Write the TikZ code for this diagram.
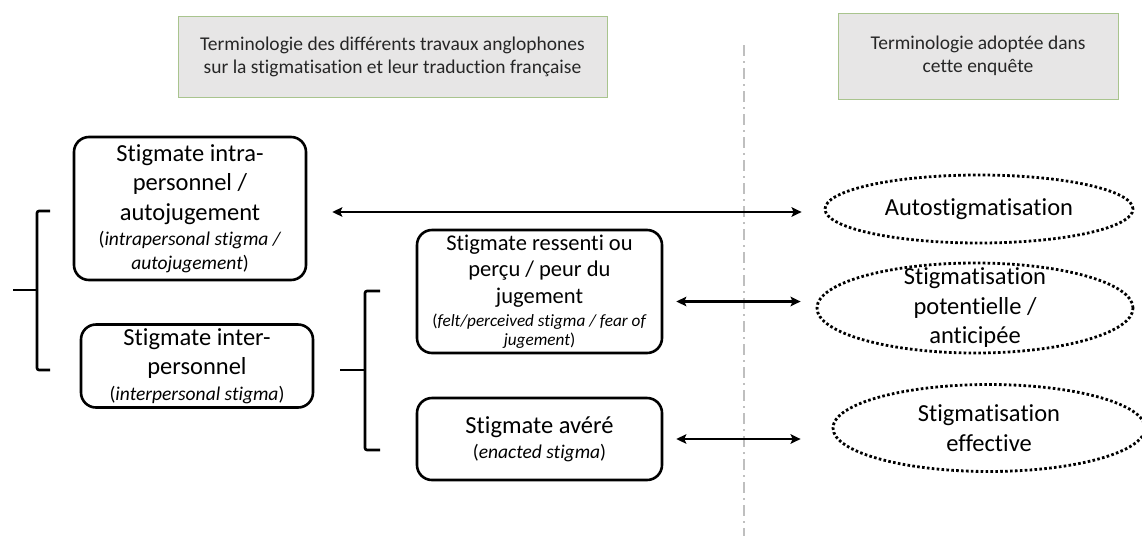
\documentclass[tikz,border=0pt]{standalone}
\usepackage{fontspec}
\setmainfont{Carlito}[Ligatures=NoCommon]
\usepackage{tikz}
\usetikzlibrary{shapes.geometric,arrows.meta}

\definecolor{hdrgray}{RGB}{231,230,230}
\definecolor{hdrgreen}{RGB}{169,196,142}
\definecolor{sepgray}{RGB}{191,191,191}
\definecolor{txtgray}{RGB}{38,38,38}

\newcommand{\bigtxt}{\fontsize{24.5}{29.5}\selectfont}
\newcommand{\midtxt}{\fontsize{22.5}{26.5}\selectfont}
\newcommand{\smallit}{\fontsize{19.5}{22}\selectfont}

\begin{document}
\begin{tikzpicture}[x=1pt, y=-1pt,
    hdr/.style={draw=hdrgreen, fill=hdrgray, line width=1pt, align=center,
        text=txtgray, inner sep=0pt, font=\fontsize{19.5}{23}\selectfont},
    stigbox/.style={draw, rounded corners=15pt, line width=2.6pt, align=center,
        inner sep=0pt, font=\bigtxt},
    dotell/.style={draw, ellipse, line width=2.8pt, dash pattern=on 2.6pt off 2.3pt,
        inner sep=0pt, align=center, font=\bigtxt},
    biarrow/.style={{Stealth[length=10pt,width=9.5pt,inset=2pt]}-{Stealth[length=10pt,width=9.5pt,inset=2pt]},
        line width=2.2pt},
    brace/.style={line width=2.6pt, rounded corners=2pt},
    sepline/.style={sepgray, line width=2pt, dash pattern=on 11pt off 5pt on 2pt off 5pt}
]
\useasboundingbox[fill=white] (0,0) rectangle (1142,536);

% headers
\node[hdr, minimum width=429pt, minimum height=81pt] (hdrTrav) at (392.5,56.5)
    {Terminologie des différents travaux anglophones\\sur la stigmatisation et leur traduction française};
\node[hdr, minimum width=280pt, minimum height=86pt] (hdrEnq) at (978,56)
    {Terminologie adoptée dans\\cette enquête};

% separation
\coordinate (sepTop) at (744,45);
\coordinate (sepBot) at (744,536);
\draw[sepline] (sepTop) -- (sepBot);

% english terms
\node[stigbox, minimum width=232pt, minimum height=143pt] (intra) at (190,208.5)
    {Stigmate intra-\\personnel /\\autojugement\\[-4pt]
     {\smallit(\textit{intrapersonal stigma /}}\\[-6pt]
     {\smallit\textit{autojugement})}};
\node[stigbox, minimum width=232pt, minimum height=83pt] (inter) at (197,366)
    {Stigmate inter-\\personnel\\[-4pt]
     {\smallit(\textit{interpersonal stigma})}};
\node[stigbox, minimum width=245pt, minimum height=123pt, font=\midtxt] (ressenti) at (539.5,291.5)
    {Stigmate ressenti ou\\perçu / peur du\\jugement\\[-3pt]
     {\fontsize{17.2}{19}\selectfont(\textit{felt/perceived stigma / fear of}}\\[-8pt]
     {\fontsize{17.2}{19}\selectfont\textit{jugement})}};
\node[stigbox, minimum width=245pt, minimum height=82pt] (avere) at (539.5,439)
    {Stigmate avéré\\[-4pt]
     {\smallit(\textit{enacted stigma})}};

% brackets
\draw[brace] (50,211) -- (37,211) -- (37,370) -- (50,370);
\draw[brace] (13,290) -- (37,290);
\draw[brace] (380,291) -- (365,291) -- (365,450) -- (380,450);
\draw[brace] (340,370) -- (365,370);

% adopted terms
\node[dotell, minimum width=308pt, minimum height=68pt] (autoSt) at (979,209) {Autostigmatisation};
\node[dotell, minimum width=316pt, minimum height=90pt,
    label={[align=center, font=\bigtxt]center:Stigmatisation\\potentielle /\\anticipée}] (potSt) at (975,308) {};
\node[dotell, minimum width=312pt, minimum height=87pt] (effSt) at (989,428) {Stigmatisation\\effective};

% links
\draw[biarrow, shorten <=25pt, shorten >=22pt] ([yshift=-3.5pt]intra.east) -- ([yshift=-3.5pt]intra.east -| autoSt.west);
\draw[biarrow, shorten <=13pt, shorten >=15pt] ([yshift=-10pt]ressenti.east) -- ([yshift=-10pt]ressenti.east -| potSt.west);
\draw[biarrow, shorten <=13pt, shorten >=31pt] (avere.east) -- (avere.east -| effSt.west);
\end{tikzpicture}
\end{document}
